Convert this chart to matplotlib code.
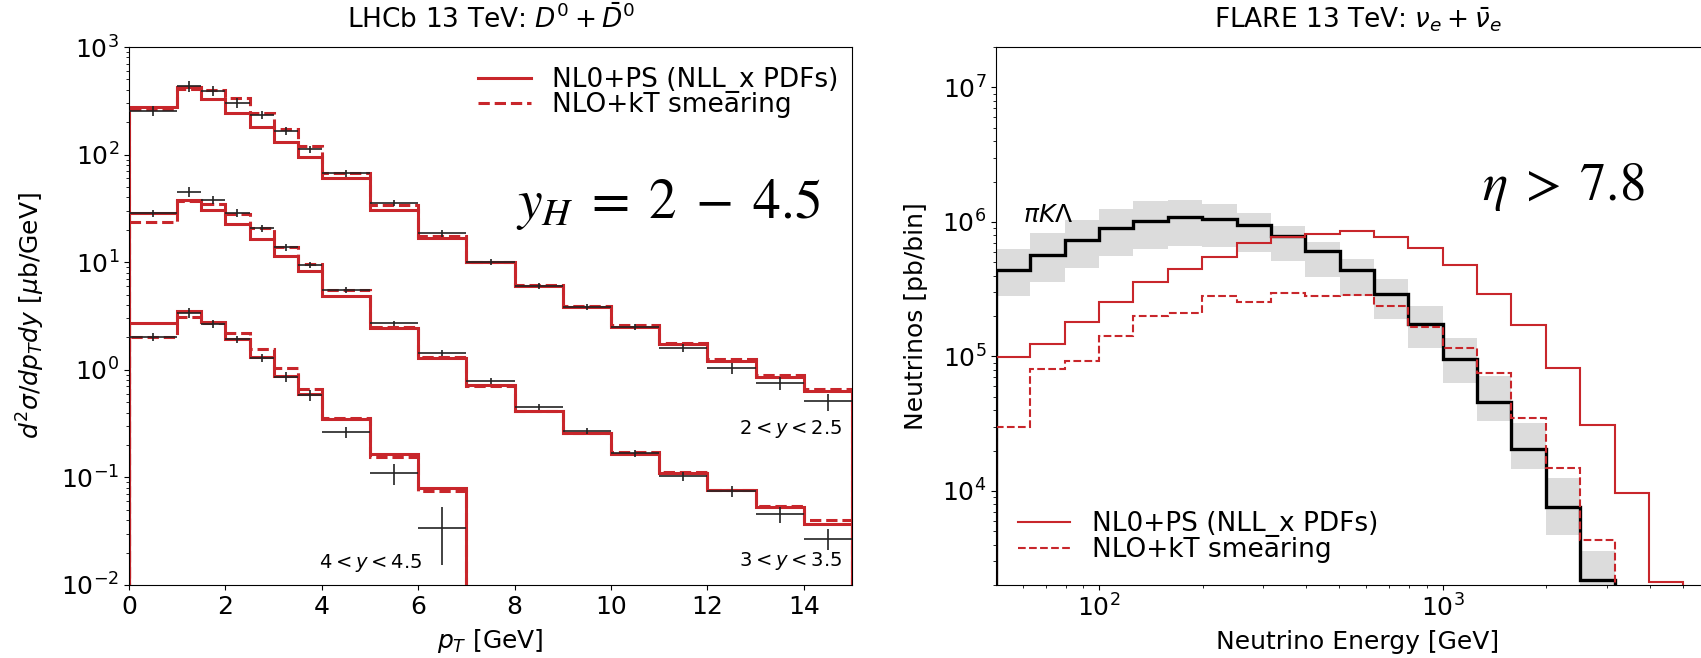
import numpy as np
import matplotlib.pyplot as plt

plt.rcParams['font.size'] = 18

# ---- left panel: LHCb D0 pT spectra, three rapidity bins ----
pt_edges = [0, 1, 1.5, 2, 2.5, 3, 3.5, 4, 5, 6, 7, 8, 9, 10, 11, 12, 13, 14, 15]

top_nlops = [279, 422, 327, 245, 179, 130, 94, 60, 30.6, 16.7, 10.0, 6.05, 3.84, 2.51, 1.74, 1.22, 0.865, 0.63]
top_kt = [264, 407, 398, 333, 245, 172, 120, 68, 34, 17.6, 10.1, 6.1, 3.9, 2.6, 1.77, 1.25, 0.90, 0.66]
top_data = [256, 435, 393, 303, 233, 166, 112, 67, 35.7, 18.6, 10.1, 6.0, 3.85, 2.51, 1.6, 1.03, 0.75, 0.51]
top_err = [0.1, 0.12, 0.1, 0.1, 0.08, 0.08, 0.08, 0.07, 0.07, 0.07, 0.06, 0.06, 0.06, 0.07, 0.08, 0.12, 0.14, 0.18]

mid_nlops = [28.4, 37.9, 30.5, 22.6, 16.3, 11.5, 8.2, 4.9, 2.45, 1.30, 0.72, 0.417, 0.257, 0.165, 0.110, 0.076, 0.0526, 0.037]
mid_kt = [23.8, 37.0, 34.7, 28.0, 20.7, 13.9, 9.6, 5.5, 2.5, 1.32, 0.71, 0.41, 0.26, 0.171, 0.113, 0.077, 0.0543, 0.040]
mid_data = [28.4, 45, 37.9, 28.9, 20.7, 13.7, 9.4, 5.5, 2.7, 1.44, 0.79, 0.45, 0.27, 0.168, 0.103, 0.074, 0.0454, 0.027]
mid_err = [0.08, 0.1, 0.08, 0.08, 0.07, 0.07, 0.07, 0.06, 0.06, 0.06, 0.06, 0.06, 0.07, 0.08, 0.1, 0.12, 0.17, 0.22]

bot_nlops = [2.74, 3.52, 2.80, 1.92, 1.32, 0.875, 0.59, 0.347, 0.164, 0.079]
bot_kt = [2.0, 3.12, 2.74, 2.18, 1.55, 1.03, 0.66, 0.354, 0.154, 0.074]
bot_data = [2.03, 3.4, 2.67, 1.92, 1.29, 0.86, 0.58, 0.262, 0.109, 0.034]
bot_err = [0.08, 0.1, 0.08, 0.08, 0.08, 0.1, 0.12, 0.12, 0.22, 0.55]

# ---- right panel: FLARE electron neutrino energy spectrum ----
e_edges = [50.1, 63.1, 79.4, 100, 125.9, 158.5, 199.5, 251.2, 316.2, 398.1, 501.2,
           631.0, 794.3, 1000, 1258.9, 1584.9, 1995.3, 2511.9, 3162.3, 3981.1, 5011.9]
nu_nlops = [9.9e4, 1.24e5, 1.82e5, 2.55e5, 3.6e5, 4.5e5, 5.5e5, 7.0e5, 7.8e5, 8.2e5,
            8.5e5, 7.8e5, 6.4e5, 4.8e5, 2.9e5, 1.70e5, 8.2e4, 3.1e4, 9.6e3, 2.1e3]
nu_kt = [3.0e4, 8.1e4, 9.3e4, 1.42e5, 2.0e5, 2.1e5, 2.8e5, 2.55e5, 2.95e5, 2.8e5,
         2.85e5, 2.37e5, 1.67e5, 1.16e5, 7.5e4, 3.5e4, 1.48e4, 4.3e3]
nu_pikl = [4.4e5, 5.7e5, 7.3e5, 9.0e5, 1.02e6, 1.08e6, 1.05e6, 9.5e5, 7.9e5, 6.1e5,
           4.4e5, 2.9e5, 1.75e5, 9.5e4, 4.6e4, 2.04e4, 7.6e3, 2.18e3]
nu_band_hi = [6.3e5, 8.3e5, 1.03e6, 1.25e6, 1.43e6, 1.46e6, 1.36e6, 1.16e6, 9.3e5, 7.1e5,
              5.3e5, 3.8e5, 2.39e5, 1.38e5, 7.2e4, 3.2e4, 1.24e4, 3.6e3]
nu_band_lo = [2.8e5, 3.6e5, 4.57e5, 5.6e5, 6.3e5, 6.6e5, 6.5e5, 6.0e5, 5.1e5, 3.9e5,
              2.8e5, 1.89e5, 1.16e5, 6.4e4, 3.3e4, 1.46e4, 4.7e3, 1.5e3]

red = '#c8262b'
base = 1e-9

fig = plt.figure(figsize=(17.01, 6.58), dpi=100)
ax1 = fig.add_axes([129 / 1701, 73 / 658, 723 / 1701, 538 / 658])
ax2 = fig.add_axes([996 / 1701, 73 / 658, 723 / 1701, 538 / 658])

# left
edges = np.array(pt_edges)
groups = [(top_nlops, top_kt, top_data, top_err),
          (mid_nlops, mid_kt, mid_data, mid_err),
          (bot_nlops, bot_kt, bot_data, bot_err)]
for i, (nlops, kt, dat, err) in enumerate(groups):
    ed = edges[:len(nlops) + 1]
    ax1.stairs(nlops, ed, baseline=base, color=red, lw=2.2,
               label='NL0+PS (NLL_x PDFs)' if i == 0 else None)
    ax1.stairs(kt, ed, baseline=base, color=red, lw=2.2, ls='--',
               label='NLO+kT smearing' if i == 0 else None)
    xc = 0.5 * (ed[:-1] + ed[1:])
    xw = 0.5 * (ed[1:] - ed[:-1])
    dat = np.array(dat)
    ax1.errorbar(xc, dat, xerr=xw, yerr=dat * np.array(err), fmt='none',
                 ecolor='#222222', elinewidth=1.2, capsize=0, zorder=3)

ax1.set_yscale('log')
ax1.set_xlim(0, 15)
ax1.set_ylim(1e-2, 1e3)
ax1.set_xticks(range(0, 15, 2))
ax1.set_xlabel('$p_T$ [GeV]', labelpad=6)
ax1.set_ylabel(r'$d^2\sigma/dp_Tdy$ [$\mu$b/GeV]', labelpad=10)
ax1.set_title(r'LHCb 13 TeV: $D^0+\bar{D}^0$', fontsize=19, pad=14)
ax1.legend(loc='upper left', bbox_to_anchor=(0.483, 0.962), frameon=False,
           fontsize=19, borderpad=0, borderaxespad=0, labelspacing=-0.05)
ax1.text(0.535, 0.682, r'$y_H\;=\;2\;-\;4.5$', transform=ax1.transAxes, fontsize=40,
         math_fontfamily='stix', ha='left', va='baseline')
ax1.text(0.986, 0.290, r'$2 < y < 2.5$', transform=ax1.transAxes, fontsize=14,
         ha='right', va='center')
ax1.text(0.986, 0.045, r'$3 < y < 3.5$', transform=ax1.transAxes, fontsize=14,
         ha='right', va='center')
ax1.text(0.263, 0.041, r'$4 < y < 4.5$', transform=ax1.transAxes, fontsize=14,
         ha='left', va='center')

# right
ax2.stairs(nu_band_hi, e_edges[:len(nu_band_hi) + 1], baseline=nu_band_lo, fill=True,
           color='#dcdcdc', lw=0)
ax2.stairs(nu_pikl, e_edges[:len(nu_pikl) + 1], baseline=base, color='black', lw=2.4)
ax2.stairs(nu_nlops, e_edges, baseline=base, color=red, lw=1.5,
           label='NL0+PS (NLL_x PDFs)')
ax2.stairs(nu_kt, e_edges[:len(nu_kt) + 1], baseline=base, color=red, lw=1.5, ls='--',
           label='NLO+kT smearing')
ax2.set_xscale('log')
ax2.set_yscale('log')
ax2.set_xlim(50.1, 6370)
ax2.set_ylim(2e3, 2e7)
ax2.set_xlabel('Neutrino Energy [GeV]', labelpad=6)
ax2.set_ylabel('Neutrinos [pb/bin]', labelpad=10)
ax2.set_title(r'FLARE 13 TeV: $\nu_e+\bar{\nu}_e$', fontsize=19, pad=14)
ax2.legend(loc='lower left', bbox_to_anchor=(0.030, 0.041), frameon=False,
           fontsize=19, borderpad=0, borderaxespad=0, labelspacing=0.0)
ax2.text(0.672, 0.716, r'$\eta\;>\;7.8$', transform=ax2.transAxes, fontsize=38,
         math_fontfamily='stix', ha='left', va='baseline')
ax2.text(0.037, 0.675, r'$\pi K \mathit{\Lambda}$', transform=ax2.transAxes, fontsize=18,
         ha='left', va='baseline')

fig.savefig('out.png', dpi=100)
